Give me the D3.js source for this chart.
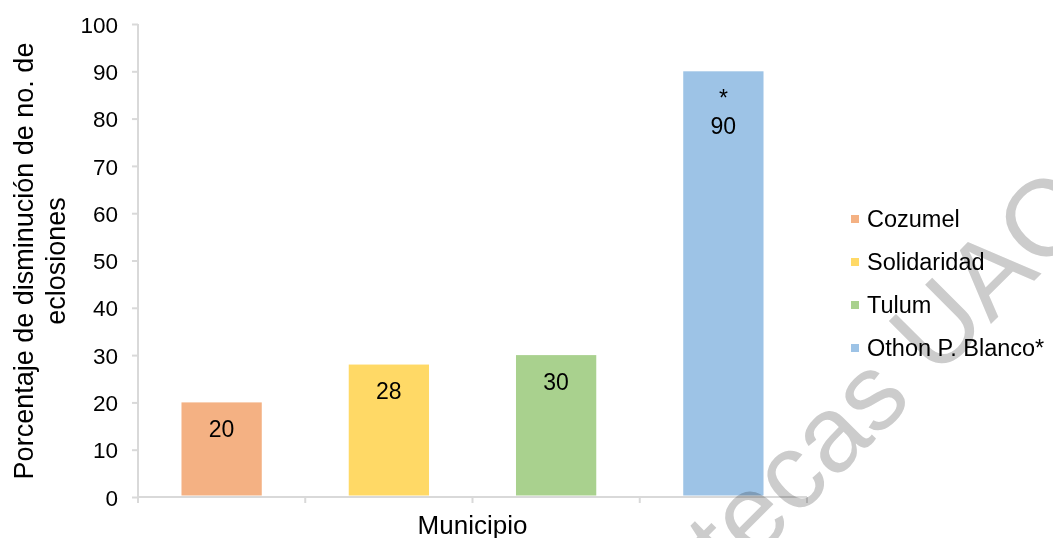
<!DOCTYPE html>
<html>
<head>
<meta charset="utf-8">
<script src="https://cdn.jsdelivr.net/npm/d3@7"></script>
<style>
  html, body { margin: 0; padding: 0; background: #fff; }
  svg { display: block; font-family: "Liberation Sans", Arial, sans-serif; }
</style>
</head>
<body>
<svg id="chart" width="1053" height="538"></svg>
<script>
// Municipalities and percentage reduction in hatchings
const categories = ["Cozumel", "Solidaridad", "Tulum", "Othon P. Blanco"];
const legendLabels = ["Cozumel", "Solidaridad", "Tulum", "Othon P. Blanco*"];
const values = [20, 28, 30, 90];
const markers = ["", "", "", "*"];
const colors = ["#f4b183", "#ffd966", "#a9d18e", "#9dc3e6"];
const yTicks = [0, 10, 20, 30, 40, 50, 60, 70, 80, 90, 100];

const svg = d3.select("#chart");
const plotLeft = 138, plotRight = 807, plotTop = 24, plotBottom = 497;

const x = d3.scaleBand().domain(categories).range([plotLeft, plotRight])
  .paddingInner(0.52).paddingOuter(0.26);
const y = d3.scaleLinear().domain([0, 100]).range([plotBottom, plotTop]);

const axisColor = "#d9d9d9";

// Bars
svg.append("g").selectAll("rect")
  .data(categories)
  .join("rect")
  .attr("x", d => x(d))
  .attr("width", x.bandwidth())
  .attr("y", (d, i) => y(values[i]))
  .attr("height", (d, i) => y(0) - y(values[i]) - 1.5)
  .attr("fill", (d, i) => colors[i]);

// Y axis
const yAxis = svg.append("g")
  .attr("transform", `translate(${plotLeft},0)`)
  .call(d3.axisLeft(y).tickValues(yTicks).tickSize(6).tickPadding(14));
yAxis.select(".domain").attr("stroke", axisColor).attr("stroke-width", 2)
  .attr("d", `M0,${plotBottom}V${plotTop}`);
yAxis.selectAll(".tick line").attr("stroke", axisColor).attr("stroke-width", 2);
yAxis.selectAll(".tick text").attr("fill", "#000")
  .style("font-size", "22.5px").attr("dy", "0.36em");

// X axis: baseline with ticks at category boundaries
const bounds = categories.map(c => x(c) - x.step() * x.paddingInner() / 2)
  .concat([plotRight]);
bounds[0] = plotLeft;
const xAxis = svg.append("g");
xAxis.append("line")
  .attr("x1", plotLeft).attr("x2", plotRight)
  .attr("y1", plotBottom).attr("y2", plotBottom)
  .attr("stroke", axisColor).attr("stroke-width", 2);
xAxis.selectAll("line.tick")
  .data(bounds)
  .join("line")
  .attr("class", "tick")
  .attr("x1", d => d).attr("x2", d => d)
  .attr("y1", plotBottom).attr("y2", plotBottom + 6)
  .attr("stroke", axisColor).attr("stroke-width", 2);

// Value labels inside the top of each bar
const labels = svg.append("g").selectAll("text")
  .data(categories)
  .join("text")
  .attr("text-anchor", "middle")
  .attr("fill", "#000")
  .style("font-size", "23px")
  .attr("x", d => x(d) + x.bandwidth() / 2)
  .attr("y", (d, i) => y(values[i]) + 34.5);
labels.each(function(d, i) {
  const t = d3.select(this);
  const cx = x(d) + x.bandwidth() / 2;
  if (markers[i]) {
    t.append("tspan").attr("x", cx).text(markers[i]);
    t.append("tspan").attr("x", cx).attr("dy", 28).text(values[i]);
  } else {
    t.text(values[i]);
  }
});

// Axis titles
svg.append("text")
  .attr("x", (plotLeft + plotRight) / 2).attr("y", 533.5)
  .attr("text-anchor", "middle").attr("fill", "#000")
  .style("font-size", "26px")
  .text("Municipio");

const yTitle = svg.append("text")
  .attr("transform", "translate(33,261) rotate(-90)")
  .attr("text-anchor", "middle").attr("fill", "#000")
  .style("font-size", "27px");
yTitle.append("tspan").attr("x", 0).attr("y", 0)
  .text("Porcentaje de disminución de no. de");
yTitle.append("tspan").attr("x", 0).attr("y", 32).text("eclosiones");

// Legend
const legendRows = [219, 262, 305, 348];
const legend = svg.append("g").selectAll("g")
  .data(legendLabels)
  .join("g")
  .attr("transform", (d, i) => `translate(851,${legendRows[i]})`);
legend.append("rect")
  .attr("x", 0).attr("y", -4).attr("width", 8).attr("height", 8)
  .attr("fill", (d, i) => colors[i]);
legend.append("text")
  .attr("x", 16).attr("dy", "0.36em").attr("fill", "#000")
  .style("font-size", "23.5px")
  .text(d => d);

// Library watermark across the plot
svg.append("text")
  .attr("transform", "translate(545,770) rotate(-45)")
  .attr("fill", "#cccccc")
  .style("mix-blend-mode", "multiply")
  .style("font-size", "108px")
  .text("Bibliotecas UAQ");
</script>
</body>
</html>
